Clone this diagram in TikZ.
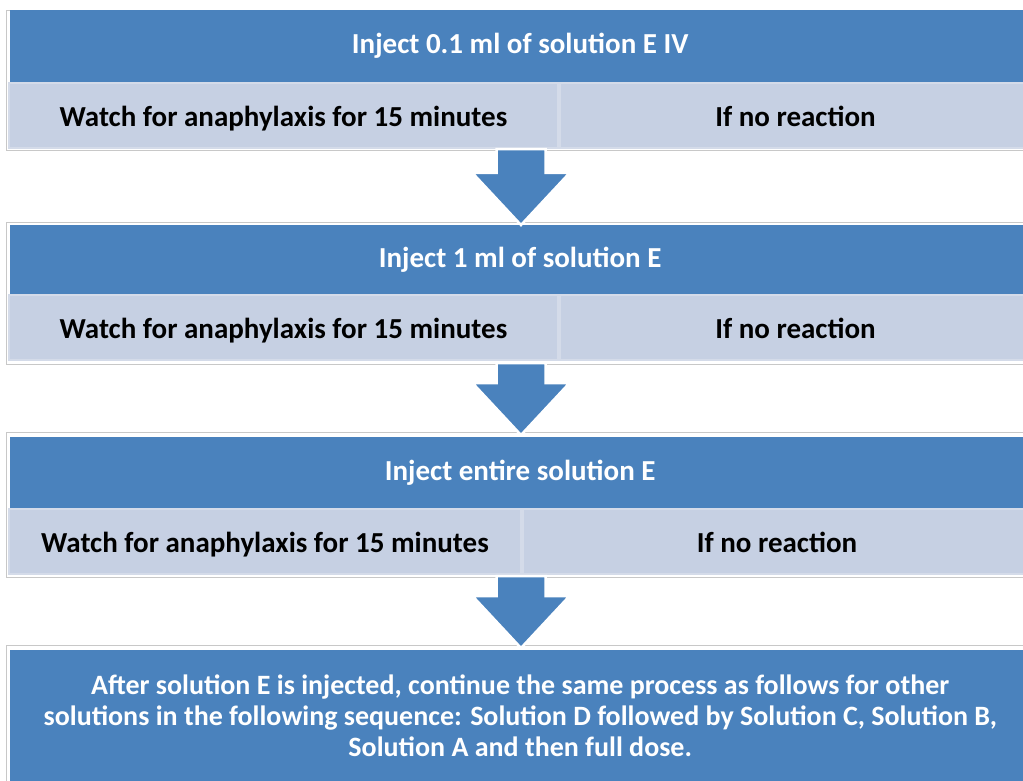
\documentclass[tikz,border=0pt]{standalone}
\usepackage{fontspec}
\setmainfont{Carlito}
\usetikzlibrary{positioning,calc}

\definecolor{hdrblue}{RGB}{74,130,189}
\definecolor{rowblue}{RGB}{198,208,227}
\definecolor{rowedge}{RGB}{212,219,233}
\definecolor{framegray}{RGB}{200,200,200}

\tikzset{
  framebox/.style={draw=framegray, line width=1.2pt, fill=white, anchor=north west, inner sep=0pt},
  hdr/.style={fill=hdrblue, text=white, anchor=north west, inner sep=0pt,
    font=\bfseries\fontsize{29}{31}\selectfont},
  cellbox/.style={fill=rowblue, draw=rowedge, line width=2pt, anchor=north west, inner sep=0pt,
    text height=24pt, text depth=2.4pt, font=\bfseries\fontsize{29}{31}\selectfont},
  flowarr/.style={fill=hdrblue, draw=white, line width=2.5pt, line join=miter}
}

% block arrow from one frame down to the next
\newcommand{\flowarrow}[2]{%
  \coordinate (top) at ($(#1.south west)+(515,-2)$);
  \coordinate (tip) at ($(#2.north west)+(515,3)$);
  \coordinate (hb) at ($(tip)+(0,-52)$);
  \filldraw[flowarr] ($(top)+(-24.5,0)$) -- ($(hb)+(-24.5,0)$) -- ($(hb)+(-48.5,0)$) -- (tip)
    -- ($(hb)+(48.5,0)$) -- ($(hb)+(24.5,0)$) -- ($(top)+(24.5,0)$) -- cycle;
}

\begin{document}
\begin{tikzpicture}[x=1pt,y=-1pt]
  \useasboundingbox (0,0) rectangle (1023,781);

  % step 1
  \node[framebox, minimum width=1030pt, minimum height=140pt] (f1) at (6,10) {};
  \node[hdr, minimum width=1020pt, minimum height=72pt] (h1) at (10,10) {Inject 0.1 ml of solution E IV};
  \node[cellbox, minimum width=549pt, minimum height=65pt] (w1) at (8,82) {Watch for anaphylaxis for 15 minutes};
  \node[cellbox, minimum width=471pt, minimum height=65pt] (r1) at (559,82) {If no reaction};

  % step 2
  \node[framebox, minimum width=1030pt, minimum height=142pt] (f2) at (6,222) {};
  \node[hdr, minimum width=1020pt, minimum height=69pt] (h2) at (10,225) {Inject 1 ml of solution E};
  \node[cellbox, minimum width=549pt, minimum height=65pt] (w2) at (8,294) {Watch for anaphylaxis for 15 minutes};
  \node[cellbox, minimum width=471pt, minimum height=65pt] (r2) at (559,294) {If no reaction};

  % step 3
  \node[framebox, minimum width=1030pt, minimum height=145pt] (f3) at (6,432) {};
  \node[hdr, minimum width=1020pt, minimum height=71pt] (h3) at (10,437) {Inject entire solution E};
  \node[cellbox, minimum width=512pt, minimum height=65pt] (w3) at (8,508) {Watch for anaphylaxis for 15 minutes};
  \node[cellbox, minimum width=508pt, minimum height=65pt] (r3) at (522,508) {If no reaction};

  % last step
  \node[framebox, minimum width=1030pt, minimum height=150pt] (f4) at (6,645) {};
  \node[hdr, minimum width=1020pt, minimum height=131pt, align=center,
    font=\bfseries\fontsize{28}{31}\selectfont] (h4) at (10,650)
    {After solution E is injected, continue the same process as follows for other\\
     solutions in the following sequence: Solution D followed by Solution C, Solution B,\\
     Solution A and then full dose.};

  \flowarrow{f1}{f2}
  \flowarrow{f2}{f3}
  \flowarrow{f3}{f4}
\end{tikzpicture}
\end{document}
